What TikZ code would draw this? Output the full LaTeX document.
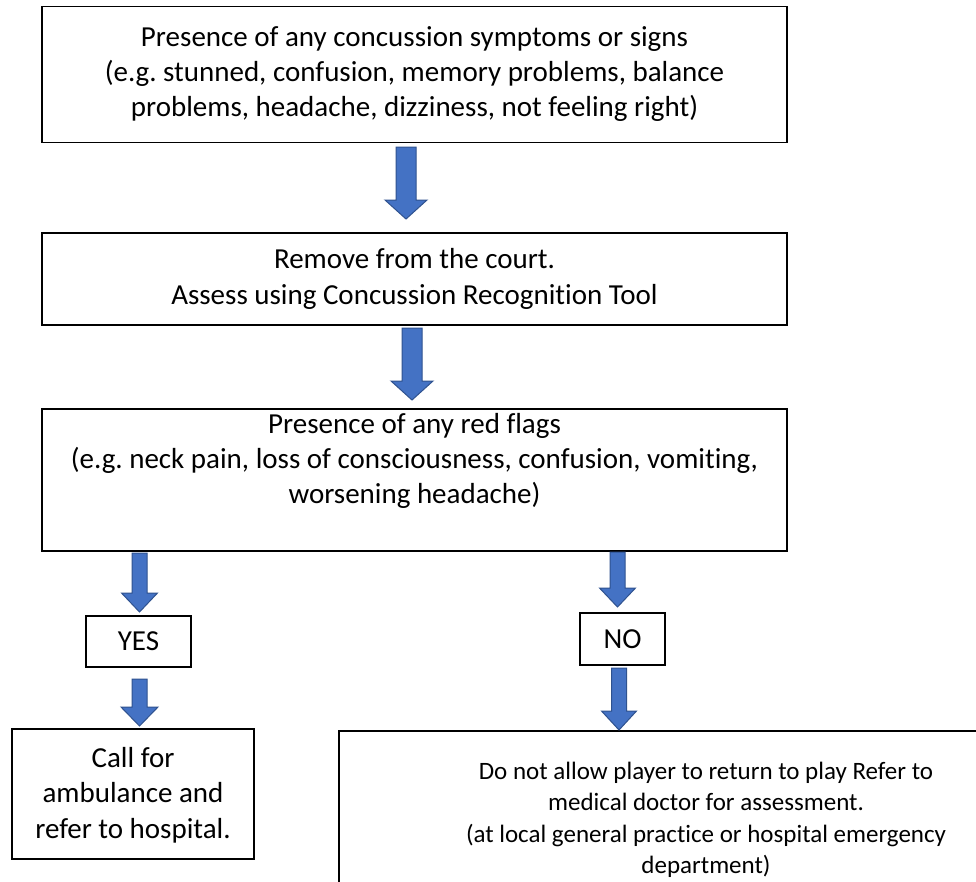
\documentclass[tikz,border=0pt]{standalone}
\usepackage{fontspec}
\setmainfont[Ligatures=CommonOff]{Carlito}
\frenchspacing
\usetikzlibrary{calc}

\definecolor{arrowblue}{HTML}{4472C4}
\definecolor{arrowedge}{HTML}{2F528F}

\tikzset{
    box/.style={line width=1.6pt},
    boxtext/.style={align=center, inner sep=0pt, font=\fontsize{29}{35.4}\selectfont},
    doctortext/.style={align=center, inner sep=0pt, font=\fontsize{25}{31.5}\selectfont},
    blockarrow/.style={fill=arrowblue, draw=arrowedge, line width=1pt, line join=miter}
}

% block arrow pointing down: shaft half width, head half width, top, tip
\newcommand{\blockdown}[4]{%
    \draw[blockarrow] let \p1=(#3), \p2=(#4) in
        (\x1-#1,\y1) -- (\x1+#1,\y1) -- (\x1+#1,\y2+19pt) -- (\x1+#2,\y2+19pt)
        -- (\x1,\y2) -- (\x1-#2,\y2+19pt) -- (\x1-#1,\y2+19pt) -- cycle;}

\begin{document}
\begin{tikzpicture}[x=1pt,y=-1pt]
        % Fix the page to the size of the picture
        \clip (0,0) rectangle (976,881);
        \fill[white] (0,0) rectangle (976,881);

        % Draw symptoms box
        \draw[box] (42,6.5) rectangle (787,142.5);
        \node[boxtext] (symptoms) at (414.5,74) {Presence of any concussion symptoms or signs\\
            (e.g. stunned, confusion, memory problems, balance\\
            problems, headache, dizziness, not feeling right)};

        % Draw remove box
        \draw[box] (42,233) rectangle (787,325);
        \node[boxtext] (remove) at (414.5,279) {Remove from the court.\\
            Assess using Concussion Recognition Tool};

        % Draw red flags box
        \draw[box] (42,409) rectangle (787,551);
        \node[boxtext] (redflags) at (414.5,461) {Presence of any red flags\\
            (e.g. neck pain, loss of consciousness, confusion, vomiting,\\
            worsening headache)};

        % Draw answer boxes
        \draw[box] (86,616) rectangle (191,667);
        \node[boxtext] (yes) at (138.5,641.5) {YES};
        \draw[box] (580,613) rectangle (665,665);
        \node[boxtext] (no) at (622.5,639) {NO};

        % Draw ambulance box
        \draw[box] (12,729) rectangle (254,859);
        \node[boxtext] (ambulance) at (133,795) {Call for\\ambulance and\\refer to hospital.};

        % Draw doctor box (runs off the page)
        \draw[box] (339,731) rectangle (1100,900);
        \node[doctortext] (doctor) at (706,820) {Do not allow player to return to play Refer to\\
            medical doctor for assessment.\\
            (at local general practice or hospital emergency\\
            department)};

        % arrow ends
        \coordinate (arrow1top) at (406,147);
        \coordinate (arrow1tip) at (406,219);
        \coordinate (arrow2top) at (412,328);
        \coordinate (arrow2tip) at (412,400);
        \coordinate (yestop) at (139.5,553);
        \coordinate (yestip) at (139.5,612);
        \coordinate (ambtop) at (139.5,679);
        \coordinate (ambtip) at (139.5,726);
        \coordinate (notop) at (617.5,552);
        \coordinate (notip) at (617.5,607);
        \coordinate (doctop) at (619,668);
        \coordinate (doctip) at (619,730);

        % arrows between the boxes
        \blockdown{10pt}{21pt}{arrow1top}{arrow1tip}
        \blockdown{10pt}{21pt}{arrow2top}{arrow2tip}
        \blockdown{7.5pt}{18pt}{yestop}{yestip}
        \blockdown{7.5pt}{18.5pt}{ambtop}{ambtip}
        \blockdown{7.5pt}{18pt}{notop}{notip}
        \blockdown{7.5pt}{17.5pt}{doctop}{doctip}

\end{tikzpicture}
\end{document}
